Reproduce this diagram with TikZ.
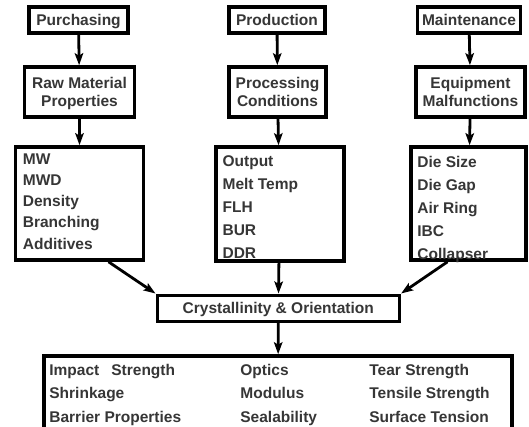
\documentclass[tikz,border=0pt]{standalone}
\usepackage{fontspec}
\setmainfont{Liberation Sans}
\usetikzlibrary{arrows.meta,positioning}
\definecolor{txtgray}{HTML}{363636}

\tikzset{
  hdbox/.style={draw=black, line width=3.6pt, fill=white, text=txtgray,
    font=\fontsize{15.5}{18}\selectfont\bfseries, align=center, inner sep=0pt,
    text depth=0pt},
  listtxt/.style={anchor=north west, align=left, inner sep=0pt, text=txtgray},
  flow/.style={-{Stealth[length=12pt,width=8.5pt,inset=2.5pt]}, line width=2.8pt},
}
\newcommand{\listfont}[1]{\fontsize{15.5}{#1}\selectfont\bfseries}

\begin{document}
\begin{tikzpicture}[x=1pt, y=-1pt]
  \clip (0,0) rectangle (529,427);
  \fill[white] (0,0) rectangle (529,427);

  % Purchasing column
  \node[hdbox, minimum width=99, minimum height=26] (purch) at (78.5,20) {Purchasing};
  \node[hdbox, minimum width=110, minimum height=50] (rawmat) at (79.5,92) {Raw Material\\Properties};
  \node[hdbox, minimum width=128, minimum height=113] (mwbox) at (79.5,203.5) {};
  \node[listtxt, font=\listfont{21.3}] (mwlist) at ([shift={(9,8)}]mwbox.north west)
    {MW\\MWD\\Density\\Branching\\Additives};

  % Production column
  \node[hdbox, minimum width=96, minimum height=26] (prod) at (277,20) {Production};
  \node[hdbox, minimum width=97, minimum height=50] (procond) at (277.5,92) {Processing\\Conditions};
  \node[hdbox, minimum width=128, minimum height=114] (outbox) at (279.7,204) {};
  \node[listtxt, font=\listfont{23}] (outlist) at ([shift={(8.5,10.5)}]outbox.north west)
    {Output\\Melt Temp\\FLH\\BUR\\DDR};

  % Maintenance column
  \node[hdbox, minimum width=103, minimum height=26] (maint) at (469,20) {Maintenance};
  \node[hdbox, minimum width=109, minimum height=50] (equip) at (470.5,92) {Equipment\\Malfunctions};
  \node[hdbox, minimum width=115, minimum height=113] (diebox) at (468.5,203.5) {};
  \node[listtxt, font=\listfont{23}] (dielist) at ([shift={(8,10.5)}]diebox.north west)
    {Die Size\\Die Gap\\Air Ring\\IBC\\Collapser};

  % Crystallinity and film properties
  \node[hdbox, minimum width=242, minimum height=26] (cryst) at (278.3,308.3) {Crystallinity \& Orientation};
  \node[hdbox, minimum width=468, minimum height=82] (effects) at (278,397) {};
  \node[listtxt, font=\listfont{23.5}] (effcol1) at ([shift={(7,9.5)}]effects.north west)
    {Impact\hspace{12pt}Strength\\Shrinkage\\Barrier Properties};
  \node[listtxt, font=\listfont{23.5}] (effcol2) at ([shift={(198,9.5)}]effects.north west)
    {Optics\\Modulus\\Sealability};
  \node[listtxt, font=\listfont{23.5}] (effcol3) at ([shift={(327,9.5)}]effects.north west)
    {Tear Strength\\Tensile Strength\\Surface Tension};

  % Arrows
  \draw[flow] (purch) -- (rawmat);
  \draw[flow] (rawmat) -- (mwbox);
  \draw[flow] (prod) -- (procond);
  \draw[flow] (procond) -- (outbox);
  \draw[flow] (maint) -- (equip);
  \draw[flow] (equip) -- (diebox);
  \draw[flow] ([xshift=29]mwbox.south) -- (cryst.north west);
  \draw[flow] (outbox) -- (cryst);
  \draw[flow] ([xshift=-21]diebox.south) -- (cryst.north east);
  \draw[flow] (cryst) -- (effects);
\end{tikzpicture}
\end{document}
